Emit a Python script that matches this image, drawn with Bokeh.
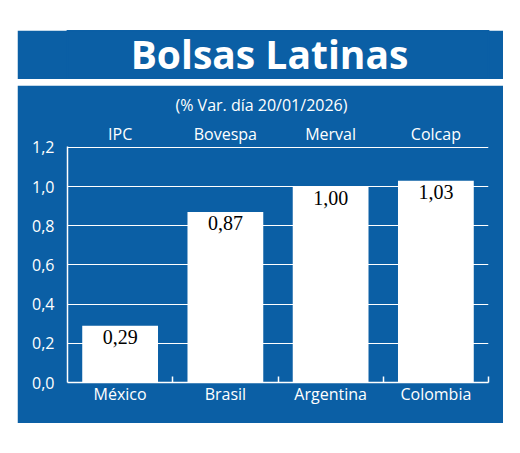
from bokeh.plotting import figure
from bokeh.models import (ColumnDataSource, FactorRange, Range1d, LinearAxis, CategoricalAxis,
                          FixedTicker, CustomJSTickFormatter, Label, Grid, Title, CategoricalScale)
from bokeh.layouts import column
from bokeh.embed import file_html
from bokeh.resources import INLINE
from bokeh.core.properties import value

title_text = "Bolsas Latinas"
subtitle_text = "(% Var. día 20/01/2026)"
countries = ["México", "Brasil", "Argentina", "Colombia"]
indices = ["IPC", "Bovespa", "Merval", "Colcap"]
changes = [0.29, 0.87, 1.00, 1.03]
y_ticks = [0.0, 0.2, 0.4, 0.6, 0.8, 1.0, 1.2]

BLUE = "#0b5fa5"
FONT = "Open Sans"
W = 486
LEFT, RIGHT = 50, 15

# ---- title band ----
t = figure(width=W, height=49, x_range=(0, 1), y_range=(0, 1), toolbar_location=None,
           output_backend="svg", x_axis_type=None, y_axis_type=None, min_border=0,
           min_border_left=LEFT, min_border_right=RIGHT)
t.background_fill_color = BLUE
t.border_fill_color = BLUE
t.outline_line_color = BLUE
t.outline_line_width = 2
for g in t.grid:
    g.visible = False
t.add_layout(Label(x=202, y=26, x_units="screen", y_units="screen", text=title_text,
                   text_font=FONT, text_font_style="bold", text_font_size="39px",
                   text_color="white", text_align="center", text_baseline="middle"))

# ---- main chart ----
p = figure(width=W, height=338, x_range=FactorRange(*countries), y_range=Range1d(0, 1.205),
           x_axis_location=None, y_axis_location=None, toolbar_location=None,
           output_backend="svg", min_border_left=LEFT, min_border_right=RIGHT,
           min_border_top=61, min_border_bottom=41)
p.background_fill_color = BLUE
p.border_fill_color = BLUE
p.outline_line_color = BLUE
p.outline_line_width = 1
for g in p.grid:
    g.visible = False

p.title = Title(text=subtitle_text, align="left", offset=108, text_font=FONT,
                text_font_size="16px", text_font_style="normal", text_color="white",
                standoff=8)

yax = LinearAxis(ticker=FixedTicker(ticks=y_ticks),
                 formatter=CustomJSTickFormatter(code="return tick.toFixed(1).replace('.', ',');"),
                 axis_line_color="white", axis_line_width=1.5,
                 major_tick_line_color=None, minor_tick_line_color=None,
                 major_label_text_color="white", major_label_text_font=FONT,
                 major_label_text_font_size="16px", major_label_standoff=7)
p.add_layout(yax, "left")
p.add_layout(Grid(dimension=1, ticker=yax.ticker, grid_line_color="white", grid_line_width=1))

# tick marks at category boundaries (synthetic coordinates of the factor range)
n = len(countries)
edge_ax = LinearAxis(ticker=FixedTicker(ticks=list(range(1, n + 1))),
                     formatter=CustomJSTickFormatter(code="return '';"),
                     axis_line_color="white", axis_line_width=1.5,
                     major_tick_line_color="white", major_tick_line_width=1.5,
                     major_tick_in=6, major_tick_out=0, minor_tick_line_color=None,
                     major_label_standoff=0)
p.add_layout(edge_ax, "below")

bottom_ax = CategoricalAxis(axis_line_color=None, major_tick_line_color=None,
                            major_tick_out=0, major_tick_in=0,
                            major_label_text_color="white", major_label_text_font=FONT,
                            major_label_text_font_size="16px", major_label_standoff=0)
p.add_layout(bottom_ax, "below")

p.extra_x_ranges["idx"] = FactorRange(*indices)
p.extra_x_scales["idx"] = CategoricalScale()
top_ax = CategoricalAxis(x_range_name="idx", axis_line_color=None, major_tick_line_color=None,
                         major_tick_out=0, major_tick_in=0,
                         major_label_text_color="white", major_label_text_font=FONT,
                         major_label_text_font_size="16px", major_label_standoff=2)
p.add_layout(top_ax, "above")

src = ColumnDataSource(dict(country=countries, change=changes,
                            label=[f"{v:.2f}".replace(".", ",") for v in changes]))
p.vbar(x="country", top="change", width=0.72, bottom=0, source=src,
       fill_color="white", line_color=None)
p.text(x="country", y="change", text="label", source=src, text_align="center",
       text_baseline="top", y_offset=4, text_font=value("Liberation Serif"),
       text_font_size="20px", text_color="black")

layout = column(t, p, spacing=6, margin=(30, 0, 0, 17))
open("out.html", "w").write(file_html(layout, INLINE))
